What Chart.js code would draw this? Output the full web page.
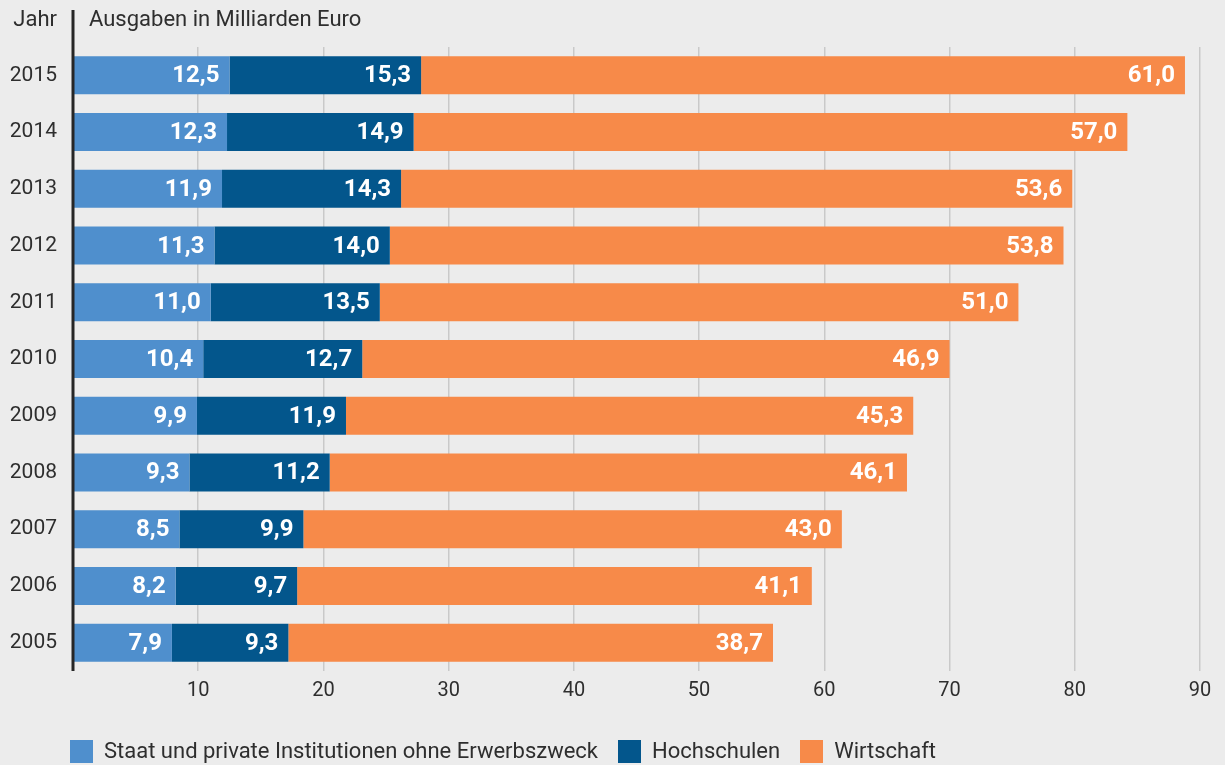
<!DOCTYPE html>
<html lang="de">
<head>
<meta charset="utf-8">
<title>Ausgaben in Milliarden Euro</title>
<script src="https://cdn.jsdelivr.net/npm/chart.js@4"></script>
<style>
  html, body { margin: 0; padding: 0; background: #ececec; }
  #wrap { position: relative; width: 1225px; height: 765px; font-family: Roboto, sans-serif; color: #2e2e2e; }
  #chart { position: absolute; left: 0; top: 0; }
  .head { position: absolute; top: 5px; font-size: 22px; line-height: 28px; }
  #legend { position: absolute; left: 70px; top: 739px; display: flex; font-size: 22px; line-height: 24px; }
  #legend span.item { display: flex; align-items: center; margin-right: 20px; }
  #legend i { display: inline-block; width: 23px; height: 23px; margin-right: 11px; }
</style>
</head>
<body>
<div id="wrap">
  <canvas id="chart" width="1225" height="765"></canvas>
  <div class="head" style="right:1168px">Jahr</div>
  <div class="head" style="left:89px">Ausgaben in Milliarden Euro</div>
  <div id="legend"></div>
</div>
<script>
const years = ["2015", "2014", "2013", "2012", "2011", "2010", "2009", "2008", "2007", "2006", "2005"];
const seriesNames = ["Staat und private Institutionen ohne Erwerbszweck", "Hochschulen", "Wirtschaft"];
const staat = [12.5, 12.3, 11.9, 11.3, 11.0, 10.4, 9.9, 9.3, 8.5, 8.2, 7.9];
const hochschulen = [15.3, 14.9, 14.3, 14.0, 13.5, 12.7, 11.9, 11.2, 9.9, 9.7, 9.3];
const wirtschaft = [61.0, 57.0, 53.6, 53.8, 51.0, 46.9, 45.3, 46.1, 43.0, 41.1, 38.7];
const xTicks = [10, 20, 30, 40, 50, 60, 70, 80, 90];
const colors = ["#4f8fcd", "#03568c", "#f78a49"];

const fmt = v => v.toFixed(1).replace(".", ",");

// white value labels, right aligned inside each segment
const valueLabels = {
  id: "valueLabels",
  afterDatasetsDraw(chart) {
    const ctx = chart.ctx;
    ctx.save();
    ctx.font = "bold 24px Roboto";
    ctx.fillStyle = "#ffffff";
    ctx.textAlign = "right";
    ctx.textBaseline = "middle";
    chart.data.datasets.forEach((ds, i) => {
      chart.getDatasetMeta(i).data.forEach((bar, j) => {
        ctx.fillText(fmt(ds.data[j]), bar.x - 10, bar.y + 1);
      });
    });
    ctx.restore();
  },
};

// dark axis line running up into the header row
const axisLine = {
  id: "axisLine",
  afterDraw(chart) {
    const { ctx, chartArea } = chart;
    ctx.save();
    ctx.strokeStyle = "#262626";
    ctx.lineWidth = 3;
    ctx.beginPath();
    ctx.moveTo(chartArea.left, 10);
    ctx.lineTo(chartArea.left, chartArea.bottom);
    ctx.stroke();
    ctx.restore();
  },
};

const datasets = [staat, hochschulen, wirtschaft].map((data, i) => ({
  label: seriesNames[i],
  data,
  backgroundColor: colors[i],
  borderWidth: 0,
  categoryPercentage: 1,
  barPercentage: 0.67,
}));

new Chart(document.getElementById("chart"), {
  type: "bar",
  data: { labels: years, datasets },
  plugins: [valueLabels, axisLine],
  options: {
    responsive: false,
    animation: false,
    indexAxis: "y",
    layout: { padding: { top: 47, right: 25, bottom: 54, left: 0 } },
    plugins: { legend: { display: false }, tooltip: { enabled: false } },
    scales: {
      x: {
        stacked: true,
        min: 0,
        max: 90,
        afterBuildTicks: scale => { scale.ticks = [0, ...xTicks].map(v => ({ value: v })); },
        grid: { color: "#c9c9c9", lineWidth: 1.5, drawTicks: false },
        border: { display: false },
        ticks: {
          autoSkip: false,
          padding: 8,
          color: "#2e2e2e",
          font: { family: "Roboto", size: 20 },
          callback: v => (v === 0 ? "" : v),
        },
      },
      y: {
        stacked: true,
        grid: { display: false },
        border: { display: false },
        afterFit: scale => { scale.width = 73; },
        ticks: {
          padding: 8,
          color: "#2e2e2e",
          font: { family: "Roboto", size: 21 },
        },
      },
    },
  },
});

const legend = document.getElementById("legend");
seriesNames.forEach((name, i) => {
  const item = document.createElement("span");
  item.className = "item";
  item.innerHTML = `<i style="background:${colors[i]}"></i>${name}`;
  legend.appendChild(item);
});
</script>
</body>
</html>
